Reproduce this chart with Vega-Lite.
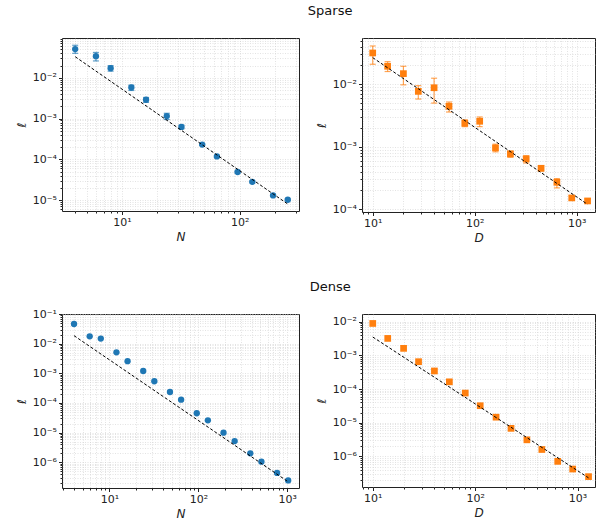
{
 "$schema": "https://vega.github.io/schema/vega-lite/v6.json",
 "padding": {"left": 14, "top": 5, "right": 0, "bottom": 2},
 "config": {
  "font": "DejaVu Sans",
  "view": {"stroke": "#222", "strokeWidth": 1},
  "axis": {"labelFont": "DejaVu Sans", "labelFontSize": 11, "labelColor": "#222", "titleFont": "DejaVu Sans", "titleFontSize": 12, "titleFontWeight": "normal", "titleFontStyle": "italic", "titleColor": "#222", "domain": false, "tickColor": "#222", "grid": true, "gridColor": "#d0d0d0", "gridDash": [1, 1.5], "gridWidth": 0.6, "labelOverlap": false, "labelFlush": false, "labelPadding": 2},
  "title": {"fontSize": 13, "fontWeight": "normal", "font": "DejaVu Sans", "color": "#111", "anchor": "middle", "offset": 14}
 },
 "datasets": {
  "sN": [
   {"x": 4, "y": 0.0507, "lo": 0.040, "hi": 0.063},
   {"x": 6, "y": 0.034, "lo": 0.026, "hi": 0.042},
   {"x": 8, "y": 0.0173, "lo": 0.0146, "hi": 0.020},
   {"x": 12, "y": 0.0058, "lo": 0.0049, "hi": 0.0066},
   {"x": 16, "y": 0.0029, "lo": 0.0025, "hi": 0.0033},
   {"x": 24, "y": 0.00115, "lo": 0.00095, "hi": 0.00135},
   {"x": 32, "y": 0.000625, "lo": 0.00056, "hi": 0.00069},
   {"x": 48, "y": 0.00023, "lo": 0.00022, "hi": 0.00024},
   {"x": 64, "y": 0.000118, "lo": 0.000112, "hi": 0.000124},
   {"x": 96, "y": 0.000049, "lo": 0.0000465, "hi": 0.0000515},
   {"x": 128, "y": 0.000028, "lo": 0.0000266, "hi": 0.0000294},
   {"x": 192, "y": 0.000013, "lo": 0.0000124, "hi": 0.0000136},
   {"x": 256, "y": 0.0000102, "lo": 0.0000097, "hi": 0.0000107}
  ],
  "sNfit": [{"x": 4, "y": 0.033}, {"x": 256, "y": 0.0000080}],
  "sD": [
   {"x": 10, "y": 0.0317, "lo": 0.0209, "hi": 0.041},
   {"x": 14, "y": 0.0194, "lo": 0.016, "hi": 0.023},
   {"x": 20, "y": 0.0148, "lo": 0.0098, "hi": 0.0194},
   {"x": 28, "y": 0.0077, "lo": 0.0058, "hi": 0.0095},
   {"x": 40, "y": 0.0088, "lo": 0.005, "hi": 0.0125},
   {"x": 56, "y": 0.00444, "lo": 0.0036, "hi": 0.0052},
   {"x": 80, "y": 0.00238, "lo": 0.0021, "hi": 0.0027},
   {"x": 112, "y": 0.00256, "lo": 0.0021, "hi": 0.0030},
   {"x": 160, "y": 0.00096, "lo": 0.00083, "hi": 0.0011},
   {"x": 224, "y": 0.00077, "lo": 0.00068, "hi": 0.00085},
   {"x": 320, "y": 0.00064, "lo": 0.00055, "hi": 0.00072},
   {"x": 448, "y": 0.000453, "lo": 0.00041, "hi": 0.0005},
   {"x": 640, "y": 0.00027, "lo": 0.00022, "hi": 0.00031},
   {"x": 896, "y": 0.000152, "lo": 0.00014, "hi": 0.000165},
   {"x": 1280, "y": 0.000136, "lo": 0.000125, "hi": 0.000147}
  ],
  "sDfit": [{"x": 10, "y": 0.0267}, {"x": 1280, "y": 0.00012}],
  "dN": [
   {"x": 4, "y": 0.046}, {"x": 6, "y": 0.0177}, {"x": 8, "y": 0.0148}, {"x": 12, "y": 0.0051},
   {"x": 16, "y": 0.00257}, {"x": 24, "y": 0.0012}, {"x": 32, "y": 0.00054}, {"x": 48, "y": 0.000235},
   {"x": 64, "y": 0.000129}, {"x": 96, "y": 0.000045}, {"x": 128, "y": 0.000026}, {"x": 192, "y": 0.00001},
   {"x": 256, "y": 0.0000052}, {"x": 384, "y": 0.000002}, {"x": 512, "y": 0.00000105}, {"x": 768, "y": 0.00000044},
   {"x": 1024, "y": 0.000000245}
  ],
  "dNfit": [{"x": 4, "y": 0.0186}, {"x": 1024, "y": 0.00000022}],
  "dD": [
   {"x": 10, "y": 0.0089}, {"x": 14, "y": 0.0032}, {"x": 20, "y": 0.00162}, {"x": 28, "y": 0.00065},
   {"x": 40, "y": 0.000345}, {"x": 56, "y": 0.000164}, {"x": 80, "y": 0.000076}, {"x": 112, "y": 0.000032},
   {"x": 160, "y": 0.0000146}, {"x": 224, "y": 0.0000068}, {"x": 320, "y": 0.0000031}, {"x": 448, "y": 0.0000016},
   {"x": 640, "y": 0.00000071}, {"x": 896, "y": 0.00000042}, {"x": 1280, "y": 0.00000025}
  ],
  "dDfit": [{"x": 10, "y": 0.00352}, {"x": 1280, "y": 0.00000023}]
 },
 "spacing": 36,
 "vconcat": [
  {
   "title": {"text": "Sparse", "dx": 25},
   "spacing": 14,
   "hconcat": [
    {
     "width": 237, "height": 173,
     "encoding": {
      "x": {"field": "x", "type": "quantitative", "title": "N",
        "scale": {"type": "log", "domain": [3.09, 319], "nice": false},
        "axis": {"values": [4,5,6,7,8,9,10,20,30,40,50,60,70,80,90,100,200,300],
          "tickSize": {"condition": {"test": "abs(log(datum.value)/LN10 - round(log(datum.value)/LN10)) < 0.001", "value": 3.5}, "value": 2},
          "labelExpr": "abs(log(datum.value)/LN10 - round(log(datum.value)/LN10)) < 0.001 ? '10' + replace(replace(replace(replace(replace(replace(replace(replace(toString(round(log(datum.value)/LN10)),'-','⁻'),'1','¹'),'2','²'),'3','³'),'4','⁴'),'5','⁵'),'6','⁶'),'7','⁷') : ''"}},
      "y": {"field": "y", "type": "quantitative", "title": "ℓ",
        "scale": {"type": "log", "domain": [0.0000054, 0.095], "nice": false},
        "axis": {"values": [0.000006,0.000007,0.000008,0.000009,0.00001,0.00002,0.00003,0.00004,0.00005,0.00006,0.00007,0.00008,0.00009,0.0001,0.0002,0.0003,0.0004,0.0005,0.0006,0.0007,0.0008,0.0009,0.001,0.002,0.003,0.004,0.005,0.006,0.007,0.008,0.009,0.01,0.02,0.03,0.04,0.05,0.06,0.07,0.08,0.09],
          "tickSize": {"condition": {"test": "abs(log(datum.value)/LN10 - round(log(datum.value)/LN10)) < 0.001", "value": 3.5}, "value": 2},
          "labelExpr": "abs(log(datum.value)/LN10 - round(log(datum.value)/LN10)) < 0.001 ? '10' + replace(replace(replace(replace(replace(replace(replace(replace(toString(round(log(datum.value)/LN10)),'-','⁻'),'1','¹'),'2','²'),'3','³'),'4','⁴'),'5','⁵'),'6','⁶'),'7','⁷') : ''"}}
     },
     "layer": [
      {"data": {"name": "sN"}, "mark": {"type": "errorbar", "ticks": {"size": 6}, "color": "#1f77b4", "opacity": 0.7, "thickness": 1.2}, "encoding": {"y": {"field": "lo", "type": "quantitative"}, "y2": {"field": "hi"}}},
      {"data": {"name": "sN"}, "mark": {"type": "point", "shape": "circle", "filled": true, "size": 40, "color": "#1f77b4", "opacity": 1}},
      {"data": {"name": "sNfit"}, "mark": {"type": "line", "color": "black", "strokeDash": [3, 2], "strokeWidth": 1}, "encoding": {}}
     ]
    },
    {
     "width": 233, "height": 174,
     "encoding": {
      "x": {"field": "x", "type": "quantitative", "title": "D",
        "scale": {"type": "log", "domain": [7.85, 1514], "nice": false},
        "axis": {"values": [8,9,10,20,30,40,50,60,70,80,90,100,200,300,400,500,600,700,800,900,1000],
          "tickSize": {"condition": {"test": "abs(log(datum.value)/LN10 - round(log(datum.value)/LN10)) < 0.001", "value": 3.5}, "value": 2},
          "labelExpr": "abs(log(datum.value)/LN10 - round(log(datum.value)/LN10)) < 0.001 ? '10' + replace(replace(replace(replace(replace(replace(replace(replace(toString(round(log(datum.value)/LN10)),'-','⁻'),'1','¹'),'2','²'),'3','³'),'4','⁴'),'5','⁵'),'6','⁶'),'7','⁷') : ''"}},
      "y": {"field": "y", "type": "quantitative", "title": "ℓ",
        "scale": {"type": "log", "domain": [0.0000905, 0.055], "nice": false},
        "axis": {"values": [0.0001,0.0002,0.0003,0.0004,0.0005,0.0006,0.0007,0.0008,0.0009,0.001,0.002,0.003,0.004,0.005,0.006,0.007,0.008,0.009,0.01,0.02,0.03,0.04,0.05],
          "tickSize": {"condition": {"test": "abs(log(datum.value)/LN10 - round(log(datum.value)/LN10)) < 0.001", "value": 3.5}, "value": 2},
          "labelExpr": "abs(log(datum.value)/LN10 - round(log(datum.value)/LN10)) < 0.001 ? '10' + replace(replace(replace(replace(replace(replace(replace(replace(toString(round(log(datum.value)/LN10)),'-','⁻'),'1','¹'),'2','²'),'3','³'),'4','⁴'),'5','⁵'),'6','⁶'),'7','⁷') : ''"}}
     },
     "layer": [
      {"data": {"name": "sD"}, "mark": {"type": "errorbar", "ticks": {"size": 6}, "color": "#ff7f0e", "opacity": 0.7, "thickness": 1.2}, "encoding": {"y": {"field": "lo", "type": "quantitative"}, "y2": {"field": "hi"}}},
      {"data": {"name": "sD"}, "mark": {"type": "point", "shape": "square", "filled": true, "size": 45, "color": "#ff7f0e", "opacity": 1}},
      {"data": {"name": "sDfit"}, "mark": {"type": "line", "color": "black", "strokeDash": [3, 2], "strokeWidth": 1}, "encoding": {}}
     ]
    }
   ]
  },
  {
   "title": {"text": "Dense", "dx": 25},
   "spacing": 14,
   "hconcat": [
    {
     "width": 237, "height": 174,
     "encoding": {
      "x": {"field": "x", "type": "quantitative", "title": "N",
        "scale": {"type": "log", "domain": [2.93, 1355], "nice": false},
        "axis": {"values": [3,4,5,6,7,8,9,10,20,30,40,50,60,70,80,90,100,200,300,400,500,600,700,800,900,1000],
          "tickSize": {"condition": {"test": "abs(log(datum.value)/LN10 - round(log(datum.value)/LN10)) < 0.001", "value": 3.5}, "value": 2},
          "labelExpr": "abs(log(datum.value)/LN10 - round(log(datum.value)/LN10)) < 0.001 ? '10' + replace(replace(replace(replace(replace(replace(replace(replace(toString(round(log(datum.value)/LN10)),'-','⁻'),'1','¹'),'2','²'),'3','³'),'4','⁴'),'5','⁵'),'6','⁶'),'7','⁷') : ''"}},
      "y": {"field": "y", "type": "quantitative", "title": "ℓ",
        "scale": {"type": "log", "domain": [0.000000136, 0.1], "nice": false},
        "axis": {"values": [0.0000002,0.0000003,0.0000004,0.0000005,0.0000006,0.0000007,0.0000008,0.0000009,0.000001,0.000002,0.000003,0.000004,0.000005,0.000006,0.000007,0.000008,0.000009,0.00001,0.00002,0.00003,0.00004,0.00005,0.00006,0.00007,0.00008,0.00009,0.0001,0.0002,0.0003,0.0004,0.0005,0.0006,0.0007,0.0008,0.0009,0.001,0.002,0.003,0.004,0.005,0.006,0.007,0.008,0.009,0.01,0.02,0.03,0.04,0.05,0.06,0.07,0.08,0.09,0.1],
          "tickSize": {"condition": {"test": "abs(log(datum.value)/LN10 - round(log(datum.value)/LN10)) < 0.001", "value": 3.5}, "value": 2},
          "labelExpr": "abs(log(datum.value)/LN10 - round(log(datum.value)/LN10)) < 0.001 ? '10' + replace(replace(replace(replace(replace(replace(replace(replace(toString(round(log(datum.value)/LN10)),'-','⁻'),'1','¹'),'2','²'),'3','³'),'4','⁴'),'5','⁵'),'6','⁶'),'7','⁷') : ''"}}
     },
     "layer": [
      {"data": {"name": "dN"}, "mark": {"type": "point", "shape": "circle", "filled": true, "size": 40, "color": "#1f77b4", "opacity": 1}},
      {"data": {"name": "dNfit"}, "mark": {"type": "line", "color": "black", "strokeDash": [3, 2], "strokeWidth": 1}, "encoding": {}}
     ]
    },
    {
     "width": 233, "height": 173,
     "encoding": {
      "x": {"field": "x", "type": "quantitative", "title": "D",
        "scale": {"type": "log", "domain": [7.85, 1480], "nice": false},
        "axis": {"values": [8,9,10,20,30,40,50,60,70,80,90,100,200,300,400,500,600,700,800,900,1000],
          "tickSize": {"condition": {"test": "abs(log(datum.value)/LN10 - round(log(datum.value)/LN10)) < 0.001", "value": 3.5}, "value": 2},
          "labelExpr": "abs(log(datum.value)/LN10 - round(log(datum.value)/LN10)) < 0.001 ? '10' + replace(replace(replace(replace(replace(replace(replace(replace(toString(round(log(datum.value)/LN10)),'-','⁻'),'1','¹'),'2','²'),'3','³'),'4','⁴'),'5','⁵'),'6','⁶'),'7','⁷') : ''"}},
      "y": {"field": "y", "type": "quantitative", "title": "ℓ",
        "scale": {"type": "log", "domain": [0.000000123, 0.017], "nice": false},
        "axis": {"values": [0.0000002,0.0000003,0.0000004,0.0000005,0.0000006,0.0000007,0.0000008,0.0000009,0.000001,0.000002,0.000003,0.000004,0.000005,0.000006,0.000007,0.000008,0.000009,0.00001,0.00002,0.00003,0.00004,0.00005,0.00006,0.00007,0.00008,0.00009,0.0001,0.0002,0.0003,0.0004,0.0005,0.0006,0.0007,0.0008,0.0009,0.001,0.002,0.003,0.004,0.005,0.006,0.007,0.008,0.009,0.01],
          "tickSize": {"condition": {"test": "abs(log(datum.value)/LN10 - round(log(datum.value)/LN10)) < 0.001", "value": 3.5}, "value": 2},
          "labelExpr": "abs(log(datum.value)/LN10 - round(log(datum.value)/LN10)) < 0.001 ? '10' + replace(replace(replace(replace(replace(replace(replace(replace(toString(round(log(datum.value)/LN10)),'-','⁻'),'1','¹'),'2','²'),'3','³'),'4','⁴'),'5','⁵'),'6','⁶'),'7','⁷') : ''"}}
     },
     "layer": [
      {"data": {"name": "dD"}, "mark": {"type": "point", "shape": "square", "filled": true, "size": 45, "color": "#ff7f0e", "opacity": 1}},
      {"data": {"name": "dDfit"}, "mark": {"type": "line", "color": "black", "strokeDash": [3, 2], "strokeWidth": 1}, "encoding": {}}
     ]
    }
   ]
  }
 ]
}
